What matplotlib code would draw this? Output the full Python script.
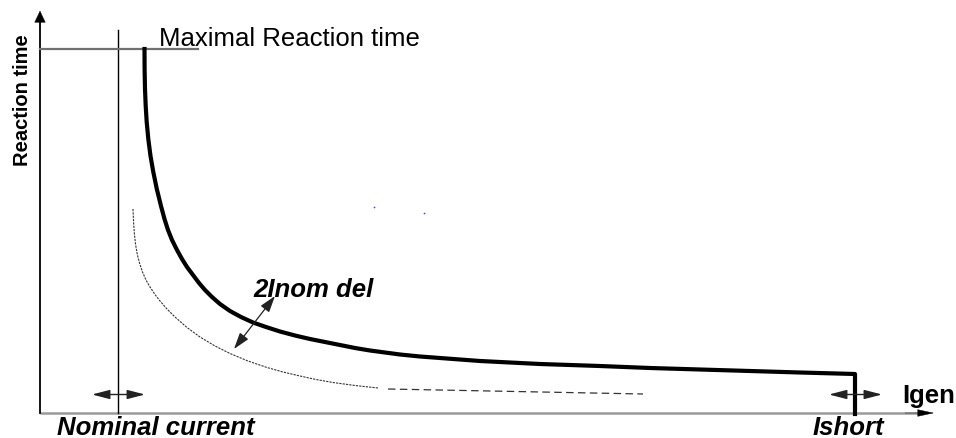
import matplotlib.pyplot as plt
from matplotlib.patches import FancyArrowPatch

# schematic drawn in picture units (x to the right, y downwards)
curve_x = [144.5, 144.6, 145.0, 145.7, 146.7, 148.3, 150.5, 153.3, 156.8, 161, 164.5, 168, 172,
           177, 182, 187, 193, 199, 205, 212, 220, 230, 241, 253, 266, 280, 295, 310, 325,
           340, 355, 370, 385, 400, 420, 440, 460, 480, 510, 540, 570, 600, 650, 700, 750,
           800, 855, 855]
curve_y = [50, 70, 90, 107, 123, 140, 157, 173, 190, 207, 220, 231, 241,
           251, 260, 268, 276, 284, 291, 298, 305, 312, 318, 323.5, 328, 332.5, 336.5, 340, 343,
           346, 349, 351.5, 353.5, 355.5, 357.5, 359, 360.5, 362, 363.5, 365, 366, 367, 369,
           370.5, 372, 373.5, 375, 415]

delay_x = [133, 133.5, 134.3, 135.5, 137.2, 139.5, 142.5, 146, 150, 155, 160, 167, 175, 187,
           200, 215, 230, 248, 267, 283, 300, 316, 333, 355, 378]
delay_y = [210, 222, 234, 245, 255, 264, 273, 281, 288, 295.5, 302, 310, 318, 328.5,
           338, 347, 354.5, 362, 368.5, 373, 377, 380.5, 383.5, 386.5, 389]

tail_x = [388, 643]
tail_y = [390, 395]

nominal_x = 118
ishort_x = 855
max_time_y = 50
axis_x0 = 40
axis_y0 = 414

fig = plt.figure(figsize=(9.56, 4.39), dpi=100)
ax = fig.add_axes([0, 0, 1, 1])
ax.set_xlim(0, 956)
ax.set_ylim(439, 0)
ax.axis("off")
plt.rcParams["font.family"] = ["Liberation Sans", "DejaVu Sans"]


def arrow(p0, p1, style, lw=1.0, color="black"):
    ax.add_patch(FancyArrowPatch(p0, p1, arrowstyle=style, mutation_scale=10,
                                 lw=lw, color=color, shrinkA=0, shrinkB=0, zorder=4))


# axes
ax.plot([axis_x0, 922], [axis_y0, axis_y0], color="#9a9a9a", lw=1.8, solid_capstyle="butt")
arrow((905, axis_y0), (934, axis_y0), "-|>,head_length=1.1,head_width=0.24", lw=0.3)
ax.plot([axis_x0, axis_x0], [axis_y0, 20], color="black", lw=1.3)
arrow((axis_x0, 30), (axis_x0, 11.7), "-|>,head_length=0.8,head_width=0.38", lw=0.3)

# nominal current and max reaction time guides
ax.plot([nominal_x, nominal_x], [31, axis_y0], color="black", lw=1.0)
ax.plot([axis_x0, 198], [max_time_y, max_time_y], color="#707070", lw=1.6)

# characteristic
ax.plot(curve_x, curve_y, color="black", lw=3.0, solid_joinstyle="round")
ax.plot(delay_x, delay_y, color="#333333", lw=0.8, ls=(0, (2, 1)))
ax.plot(tail_x, tail_y, color="#333333", lw=0.9, ls=(0, (6, 3.5)))

# double arrows
arrow((234, 350), (275, 297), "<|-|>,head_length=1.0,head_width=0.32", lw=0.9, color="#222222")
arrow((92, 395.5), (145, 395.5), "<|-|>,head_length=1.08,head_width=0.28", lw=1.0, color="#222222")
arrow((829, 395.5), (882, 395.5), "<|-|>,head_length=1.08,head_width=0.28", lw=1.0, color="#222222")

ax.scatter([374, 424], [208, 214], s=1.5, color="#4444ff", lw=0)

# texts
ax.text(159, 46.5, "Maximal Reaction time", fontsize=18.5, va="baseline", ha="left")
ax.text(22.5, 100, "Reaction time", fontsize=14.5, fontweight="bold", rotation=90,
        va="center", ha="center")
ax.text(253, 297, "2Inom del", fontsize=18.5, fontweight="bold", style="italic",
        va="baseline", ha="left")
ax.text(902, 403, "Igen", fontsize=18.5, fontweight="bold", va="baseline", ha="left")
ax.text(57, 435, "Nominal current", fontsize=18.5, fontweight="bold", style="italic",
        va="baseline", ha="left")
ax.text(813, 435, "Ishort", fontsize=18.5, fontweight="bold", style="italic",
        va="baseline", ha="left")

fig.savefig("out.png", dpi=100)
